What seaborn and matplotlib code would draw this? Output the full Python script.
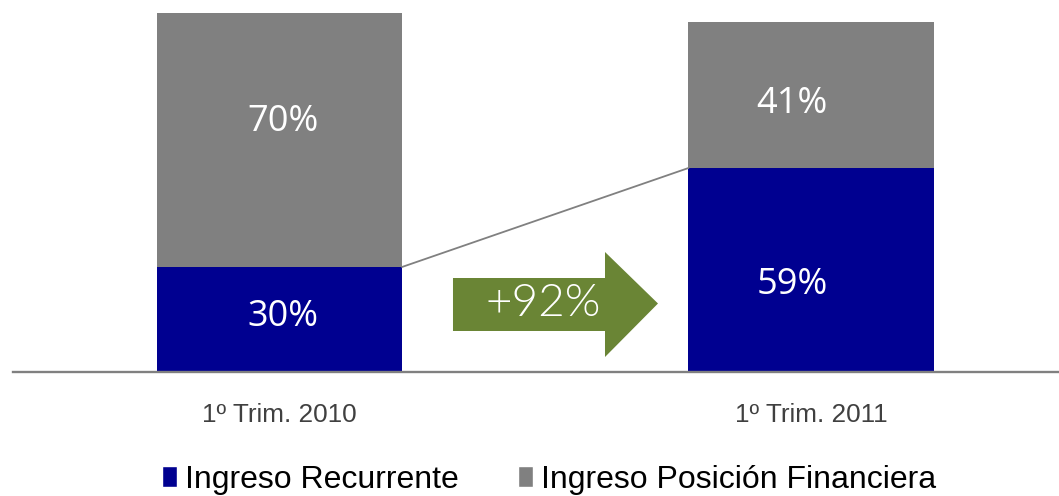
import matplotlib
matplotlib.use("Agg")
import matplotlib.pyplot as plt
from matplotlib.patches import Patch, Polygon
import seaborn as sns
import pandas as pd

# data (bar heights in chart units)
quarters = ["1º Trim. 2010", "1º Trim. 2011"]
recurrente = [105, 204]
financiera = [254, 146]
pct_recurrente = ["30%", "59%"]
pct_financiera = ["70%", "41%"]
growth_label = "+92%"
series_names = ["Ingreso Recurrente", "Ingreso Posición Financiera"]

blue = "#000090"
gray = "#808080"
green = "#6A8535"

df = pd.DataFrame({"quarter": quarters, "rec": recurrente, "fin": financiera})
df["total"] = df["rec"] + df["fin"]

sns.set_style("white")
fig = plt.figure(figsize=(10.59, 4.96), dpi=100)
ax = fig.add_axes([13 / 1059, 124 / 496, 1045 / 1059, 372 / 496])

w = 0.461
sns.barplot(data=df, x="quarter", y="total", color=gray, width=w, saturation=1,
            linewidth=0, edgecolor="none", ax=ax)
sns.barplot(data=df, x="quarter", y="rec", color=blue, width=w, saturation=1,
            linewidth=0, edgecolor="none", ax=ax)

ax.set_xlim(-0.5014, 1.4647)
ax.set_ylim(0, 372)
ax.set_xlabel("")
ax.set_ylabel("")
ax.set_yticks([])
for s in ["top", "left", "right"]:
    ax.spines[s].set_visible(False)
ax.spines["bottom"].set_color(gray)
ax.spines["bottom"].set_linewidth(1.7)
ax.tick_params(axis="x", length=0, pad=22, labelsize=18.8, labelcolor="#404040")
for t in ax.get_xticklabels():
    t.set_family("Liberation Sans")

# percentage labels (small offsets as in the original slide)
fin_off = [18, -9]
rec_off = [2, -15]
x_off = [0.007, -0.036]
for i in range(len(quarters)):
    ax.text(i + x_off[i], df["rec"][i] + df["fin"][i] / 2 + fin_off[i], pct_financiera[i],
            ha="center", va="center", color="white", fontsize=26, family="Open Sans")
    ax.text(i + x_off[i], df["rec"][i] / 2 + rec_off[i], pct_recurrente[i],
            ha="center", va="center", color="white", fontsize=26, family="Open Sans")

# connector line between the blue segments
ax.plot([w / 2, 1 - w / 2], [recurrente[0], recurrente[1]], color=gray, lw=1.3)

# growth arrow
arrow = Polygon([(0.3264, 94), (0.6124, 94), (0.6124, 120), (0.7121, 68.5),
                 (0.6124, 15), (0.6124, 41), (0.3264, 41)],
                closed=True, facecolor=green, edgecolor="none")
ax.add_patch(arrow)
ax.text(0.4958, 68, growth_label, ha="center", va="center", color="white",
        fontsize=33, family="Lato", fontweight=300)

handles = [Patch(facecolor=blue), Patch(facecolor=gray)]
fig.legend(handles, series_names, loc="upper left", bbox_to_anchor=(162 / 1059, 1 - 465 / 496),
           ncol=2, frameon=False, handlelength=0.47, handleheight=0.65,
           handletextpad=0.25, columnspacing=1.85, borderpad=0, borderaxespad=0,
           labelcolor="black", prop={"family": "Liberation Sans", "size": 23})

fig.savefig("out.png", dpi=100)
